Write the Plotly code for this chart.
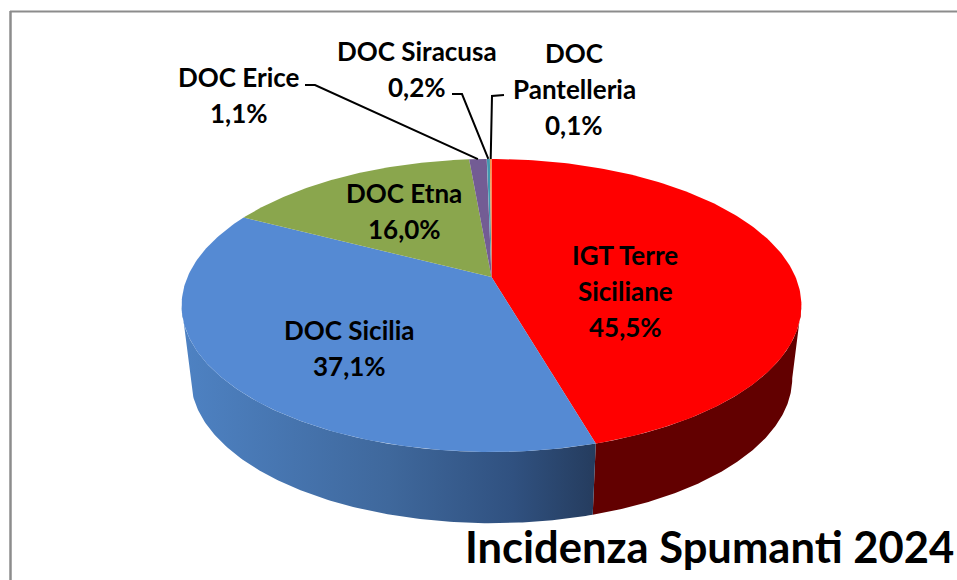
import numpy as np
import plotly.graph_objects as go

categories = ["IGT Terre Siciliane", "DOC Sicilia", "DOC Etna", "DOC Erice", "DOC Siracusa", "DOC Pantelleria"]
values = [45.5, 37.1, 16.0, 1.1, 0.2, 0.1]
top_colors = ["#ff0000", "#558ad3", "#8aa64d", "#735c94", "#4198af", "#f79646"]
title_text = "Incidenza Spumanti 2024"

# label lines (the name wrapped as in the picture)
label_lines = [["IGT Terre", "Siciliane"], ["DOC Sicilia"], ["DOC Etna"], ["DOC Erice"], ["DOC Siracusa"], ["DOC", "Pantelleria"]]

# --- layout (pixels of the 957x580 page) ---
W, H = 957, 580
TILT = 0.1945
TOP = dict(cx=491.5, cy=277.0, A=304.0, h=141.0)
BOT = dict(cx=491.5, cy=350.0, A=295.0, h=139.5)
label_pos = [(625, 255), (349, 330), (404, 193), (239, 77), (417, 51), (574, 53)]
line_gap = 36
leaders = {3: [(305, 85), (315, 85)], 4: [(452, 94), (462, 94)], 5: [(504, 95), (492, 96)]}
FONT = "Lato"

# front part of the wall: between the two points where the rim is widest
front_lo = np.arccos(-TILT) / (2 * np.pi)
front_hi = 1 - front_lo


def rim(f0, f1, p, n=160):
    th = 2 * np.pi * np.linspace(f0, f1, max(n, 3))
    u, v = np.sin(th), np.cos(th)
    w = 1 + TILT * v
    return p["cx"] + p["A"] * u / w, p["cy"] - p["h"] * v / w


fig = go.Figure()
fr = np.cumsum([0] + values) / sum(values)

# side walls
for i in range(len(values)):
    f0, f1 = max(fr[i], front_lo), min(fr[i + 1], front_hi)
    if f1 <= f0:
        continue
    xt, yt = rim(f0, f1, TOP)
    xb, yb = rim(f0, f1, BOT)
    xs = np.r_[xt, xb[::-1], xt[0]]
    ys = np.r_[yt, yb[::-1], yt[0]]
    kw = dict(fillcolor="#620000")
    if i == 1:
        kw = dict(fillgradient=dict(type="horizontal",
                                    colorscale=[[0, "#4e82c3"], [0.5, "#3f689c"], [0.8, "#305180"], [1, "#253c5e"]]))
    fig.add_trace(go.Scatter(x=xs, y=ys, mode="lines", fill="toself", line=dict(width=0),
                             hoverinfo="skip", showlegend=False, **kw))

# top faces
for i in range(len(values)):
    xt, yt = rim(fr[i], fr[i + 1], TOP)
    fig.add_trace(go.Scatter(x=np.r_[TOP["cx"], xt, TOP["cx"]], y=np.r_[TOP["cy"], yt, TOP["cy"]],
                             mode="lines", fill="toself", fillcolor=top_colors[i], line=dict(width=0),
                             name=categories[i], showlegend=False))

# leader lines
for i, pts in leaders.items():
    xe, ye = rim((fr[i] + fr[i + 1]) / 2, (fr[i] + fr[i + 1]) / 2, TOP, 3)
    xs = [p[0] for p in pts] + [xe[0]]
    ys = [p[1] for p in pts] + [ye[0]]
    fig.add_trace(go.Scatter(x=xs, y=ys, mode="lines", line=dict(color="#000000", width=2),
                             hoverinfo="skip", showlegend=False))

# labels
ann = []
for i, (lines, pos) in enumerate(zip(label_lines, label_pos)):
    texts = lines + [f"{values[i]:.1f}".replace(".", ",") + "%"]
    for j, t in enumerate(texts):
        ann.append(dict(x=pos[0], y=pos[1] + j * line_gap, text=t, showarrow=False, xanchor="center",
                        yanchor="middle", font=dict(family=FONT, size=26, color="#000000", weight="bold")))
ann.append(dict(x=463, y=546, text=title_text, showarrow=False, xanchor="left", yanchor="middle",
                font=dict(family=FONT, size=43.5, color="#000000", weight="bold")))

frame = [dict(type="line", x0=10.5, x1=10.5, y0=11, y1=H, line=dict(color="#8c8c8c", width=2.5)),
         dict(type="line", x0=10, x1=W, y0=11.5, y1=11.5, line=dict(color="#8c8c8c", width=2))]

fig.update_layout(width=W, height=H, margin=dict(l=0, r=0, t=0, b=0), paper_bgcolor="white",
                  plot_bgcolor="white", annotations=ann, shapes=frame,
                  xaxis=dict(range=[0, W], visible=False, fixedrange=True),
                  yaxis=dict(range=[H, 0], visible=False, fixedrange=True))
fig.write_html("out.html", config=dict(displayModeBar=False),
               post_script="document.body.style.margin='0';document.body.style.overflow='hidden';")
